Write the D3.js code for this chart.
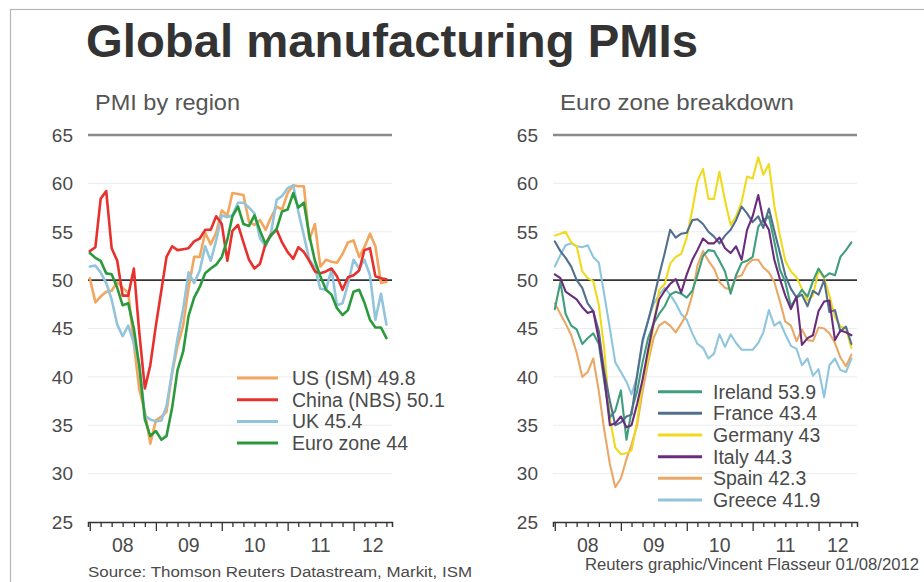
<!DOCTYPE html>
<html>
<head>
<meta charset="utf-8">
<script src="https://cdn.jsdelivr.net/npm/d3@7"></script>
<style>
  html, body { margin: 0; padding: 0; background: #fff; }
  svg { display: block; font-family: "Liberation Sans", Arial, sans-serif; }
</style>
</head>
<body>
<svg id="chart" width="924" height="582"></svg>
<script>
// ---------------- DATA (monthly, Jan 2008 - Jul 2012) ----------------
const startYear = 2008, nMonths = 55;
const yTicks = [25, 30, 35, 40, 45, 50, 55, 60, 65];
const yearLabels = ["08", "09", "10", "11", "12"];

const usISM = [
  50.2, 47.7, 48.3, 48.8, 48.9, 49.8, 49.2, 48.7, 43.4, 38.7, 36.4, 33.1,
  35.5, 35.9, 36.4, 40.4, 43.2, 45.3, 49.2, 52.4, 52.4, 54.9, 53.7, 54.9,
  57.2, 56.7, 59.0, 58.9, 58.8, 56.0, 55.7, 56.2, 55.2, 56.5, 57.6, 57.3,
  59.0, 59.8, 59.7, 59.7, 54.2, 55.8, 51.4, 52.1, 51.9, 51.8, 52.7, 53.9,
  54.1, 52.4, 53.4, 54.8, 53.5, 49.7, 49.8];
const chinaNBS = [
  53.0, 53.4, 58.4, 59.2, 53.3, 52.0, 48.4, 48.4, 51.2, 44.6, 38.8, 41.2,
  45.3, 49.0, 52.4, 53.5, 53.1, 53.2, 53.3, 54.0, 54.3, 55.2, 55.2, 56.6,
  55.8, 52.0, 55.1, 55.7, 53.9, 52.1, 51.2, 51.7, 53.8, 54.7, 55.2, 53.9,
  52.9, 52.2, 53.4, 52.9, 52.0, 50.9, 50.7, 50.9, 51.2, 50.4, 49.0, 50.3,
  50.5, 51.0, 53.1, 53.3, 50.4, 50.2, 50.1];
const ukPMI = [
  51.4, 51.5, 50.8, 49.7, 48.0, 45.4, 44.2, 45.3, 43.5, 41.4, 36.0, 35.6,
  35.4, 35.5, 37.0, 40.5, 44.0, 47.0, 50.8, 49.7, 51.0, 53.5, 52.0, 54.1,
  56.7, 56.5, 56.7, 58.0, 58.0, 57.5, 56.9, 54.3, 53.5, 54.9, 58.3, 58.7,
  59.5, 59.8, 57.1, 54.6, 52.1, 51.3, 49.1, 49.0, 51.1, 47.4, 47.6, 49.6,
  52.1, 51.2, 52.1, 50.5, 45.9, 48.6, 45.4];
const euroZone = [
  52.8, 52.3, 52.0, 50.7, 50.6, 49.2, 47.4, 47.6, 45.0, 41.1, 35.6, 33.9,
  34.4, 33.5, 33.9, 36.8, 40.7, 42.6, 46.3, 48.2, 49.3, 50.7, 51.2, 51.6,
  52.4, 54.2, 56.6, 57.6, 55.8, 55.6, 56.7, 55.1, 53.7, 54.6, 55.3, 57.1,
  57.3, 59.0, 57.5, 58.0, 54.6, 52.0, 50.4, 49.0, 48.5, 47.1, 46.4, 46.9,
  48.8, 49.0, 47.7, 45.9, 45.1, 45.1, 44.0];

const ireland = [
  47.0, 49.8, 46.5, 45.3, 44.9, 43.4, 44.0, 44.5, 43.4, 39.5, 35.8, 36.5,
  38.6, 33.5, 36.5, 38.5, 41.5, 44.0, 45.5, 46.5, 47.3, 48.5, 48.8, 48.6,
  48.2, 48.9, 50.5, 52.5, 53.1, 53.0, 52.0, 50.9, 48.6, 50.5, 51.8, 52.0,
  52.4, 55.5, 56.2, 56.6, 54.0, 51.1, 49.8, 47.3, 48.2, 49.0, 48.3, 49.9,
  51.2, 50.3, 50.7, 50.5, 52.4, 53.1, 53.9];
const france = [
  54.0, 53.0, 52.3, 51.4, 50.0, 49.2, 47.6, 46.8, 44.7, 40.5, 37.5, 35.0,
  35.3, 35.9, 36.1, 40.2, 43.8, 45.8, 48.0, 50.5, 52.8, 55.2, 54.4, 54.8,
  54.9, 56.2, 56.3, 55.8, 55.0, 54.5, 53.8, 54.6, 55.2, 56.2, 57.6, 56.9,
  56.0, 56.6, 55.4, 57.4, 55.1, 52.8, 50.5, 49.1, 48.2, 48.5, 47.3, 48.9,
  48.5, 50.0, 46.7, 46.9, 44.7, 45.2, 43.4];
const germany = [
  54.6, 54.8, 55.0, 53.9, 53.5, 50.9, 50.2, 49.9, 47.4, 42.9, 35.7, 32.7,
  32.0, 32.1, 32.4, 35.4, 39.6, 41.9, 45.3, 49.0, 49.6, 51.7, 52.4, 52.7,
  54.4, 57.3, 60.2, 61.5, 58.4, 58.4, 61.2, 58.2, 55.7, 56.6, 58.1, 60.7,
  60.5, 62.7, 60.9, 62.0, 57.7, 54.6, 52.0, 50.9, 50.3, 49.1, 47.9, 48.4,
  51.0, 50.2, 48.4, 46.2, 45.2, 45.0, 43.0];
const italy = [
  50.6, 50.2, 48.8, 48.4, 48.0, 47.2, 46.6, 46.8, 43.8, 40.0, 35.0, 35.2,
  35.9, 34.8, 35.0, 37.2, 39.7, 42.8, 45.6, 48.0, 48.9, 49.6, 50.1, 48.7,
  50.6, 52.1, 53.1, 54.3, 53.8, 53.8, 54.4, 53.3, 52.8, 53.5, 52.1, 55.2,
  56.6, 58.8, 56.2, 55.2, 52.1, 50.1, 48.4, 47.0, 48.3, 43.3, 44.0, 44.3,
  46.8, 47.8, 47.9, 43.8, 44.8, 44.6, 44.3];
const spain = [
  47.6, 46.5, 45.5, 44.3, 42.5, 40.0, 40.5, 41.9, 38.5, 34.5, 31.0, 28.6,
  29.5, 31.5, 33.0, 35.0, 38.5, 41.5, 44.0, 45.3, 45.7, 45.3, 44.6, 45.5,
  46.5, 48.5, 51.5, 53.0, 52.0, 51.2, 49.8, 49.2, 49.0, 50.3, 50.5, 51.6,
  52.1, 52.1, 51.3, 50.8, 49.8, 47.8, 45.7, 45.3, 43.7, 44.9, 43.8, 43.7,
  45.1, 45.0, 44.5, 43.5, 42.0, 41.1, 42.3];
const greece = [
  51.4, 52.6, 53.6, 53.8, 53.5, 53.4, 53.6, 52.4, 51.8, 48.5, 45.0, 41.5,
  40.5, 39.5, 38.2, 40.0, 43.5, 45.9, 47.5, 48.5, 49.2, 48.5, 47.6, 46.5,
  45.9, 44.5, 43.4, 43.0, 41.9, 42.4, 44.4, 43.1, 44.4, 43.5, 42.8, 42.8,
  42.8, 43.5, 44.6, 46.9, 45.3, 45.7, 44.4, 43.2, 42.9, 41.2, 41.9, 40.1,
  40.8, 37.9, 41.2, 41.9, 40.7, 40.5, 41.9];

const leftSeries = [
  {name: "US (ISM) 49.8", values: usISM, color: "#f2a65e"},
  {name: "China (NBS) 50.1", values: chinaNBS, color: "#e8302c"},
  {name: "UK 45.4", values: ukPMI, color: "#92c4dc"},
  {name: "Euro zone 44", values: euroZone, color: "#2b9a3c"}
];
const leftDrawOrder = [0, 2, 1, 3];
const rightSeries = [
  {name: "Ireland 53.9", values: ireland, color: "#3f9e7c"},
  {name: "France 43.4", values: france, color: "#52708e"},
  {name: "Germany 43", values: germany, color: "#f0da1e"},
  {name: "Italy 44.3", values: italy, color: "#6a2c7c"},
  {name: "Spain 42.3", values: spain, color: "#eaa866"},
  {name: "Greece 41.9", values: greece, color: "#8fc6dd"}
];
const rightDrawOrder = [5, 4, 2, 0, 1, 3];

const months = d3.range(nMonths).map(i => new Date(startYear, i, 1));

// ---------------- DRAWING ----------------
const svg = d3.select("#chart");
const txt = "#4a4a4a";

// frame
svg.append("rect").attr("x", 10.5).attr("y", 9.5).attr("width", 960).attr("height", 620)
  .attr("fill", "none").attr("stroke", "#b5b5b5").attr("stroke-width", 1.2);

svg.append("text").attr("x", 86).attr("y", 57)
  .attr("font-size", 47).attr("font-weight", "bold").attr("fill", "#333")
  .attr("textLength", 612).attr("lengthAdjust", "spacingAndGlyphs")
  .text("Global manufacturing PMIs");

const y = d3.scaleLinear().domain([25, 65]).range([522, 135]);

function panel(offset, subtitle, subLen, series, order, legend) {
  const g = svg.append("g").attr("transform", `translate(${offset},0)`);
  const x = d3.scaleTime()
    .domain([new Date(2007, 11, 22), new Date(2012, 7, 1)])
    .range([88, 392]);

  g.append("text").attr("x", 95).attr("y", 110)
    .attr("font-size", 22).attr("fill", "#555")
    .attr("textLength", subLen).attr("lengthAdjust", "spacingAndGlyphs")
    .text(subtitle);

  // gridlines
  yTicks.filter(v => v !== 25).forEach(v => {
    let stroke = "#ececec", sw = 1;
    if (v === 65) { stroke = "#8a8a8a"; sw = 2.5; }
    if (v === 50) { stroke = "#333"; sw = 1.6; }
    g.append("line").attr("x1", 88).attr("x2", 392)
      .attr("y1", y(v)).attr("y2", y(v))
      .attr("stroke", stroke).attr("stroke-width", sw);
  });

  // y labels
  g.selectAll("text.ylab").data(yTicks).join("text").attr("class", "ylab")
    .attr("x", 73).attr("y", d => y(d)).attr("dy", "0.36em")
    .attr("text-anchor", "end").attr("font-size", 19).attr("fill", txt)
    .text(d => d);

  // x axis
  const tickDates = d3.timeMonth.every(2).range(new Date(2008, 0, 1), new Date(2012, 7, 1));
  const axis = d3.axisBottom(x).tickValues(tickDates).tickFormat("").tickSizeOuter(0).tickSize(5);
  const ax = g.append("g").attr("transform", `translate(0,${y(25)})`).call(axis);
  ax.select(".domain").attr("stroke", "#333").attr("stroke-width", 1.5);
  ax.selectAll(".tick line").attr("stroke", "#333").attr("stroke-width", 1.3)
    .attr("y2", d => d.getMonth() === 0 ? 9 : 5);

  const yearStarts = d3.range(2008, 2013).map(yr => new Date(yr, 0, 1));
  g.selectAll("text.xlab").data(yearStarts).join("text").attr("class", "xlab")
    .attr("x", (d, i) => {
      const end = Math.min(x(new Date(d.getFullYear() + 1, 0, 1)), x.range()[1]);
      return (x(d) + end) / 2;
    })
    .attr("y", 552).attr("text-anchor", "middle").attr("font-size", 19.5).attr("fill", txt)
    .text((d, i) => yearLabels[i]);

  // lines
  const line = d3.line().x((d, i) => x(months[i])).y(d => y(d));
  order.forEach(k => {
    const s = series[k];
    g.append("path").datum(s.values).attr("d", line)
      .attr("fill", "none").attr("stroke", s.color)
      .attr("stroke-width", legend.sw).attr("stroke-linejoin", "round").attr("stroke-linecap", "round");
  });

  // legend
  series.forEach((s, i) => {
    const ly = legend.y0 + i * legend.dy;
    g.append("line").attr("x1", legend.x1).attr("x2", legend.x2)
      .attr("y1", ly).attr("y2", ly).attr("stroke", s.color).attr("stroke-width", 3);
    g.append("text").attr("x", legend.tx).attr("y", ly + 7)
      .attr("font-size", 19.5).attr("fill", txt).text(s.name);
  });
}

panel(0, "PMI by region", 145, leftSeries, leftDrawOrder,
  {x1: 237, x2: 278, tx: 292, y0: 378, dy: 21.7, sw: 2.6});
panel(465, "Euro zone breakdown", 234, rightSeries, rightDrawOrder,
  {x1: 193, x2: 237, tx: 248, y0: 391.7, dy: 21.65, sw: 2.1});

svg.append("text").attr("x", 88).attr("y", 577)
  .attr("font-size", 15.5).attr("fill", txt)
  .attr("textLength", 384).attr("lengthAdjust", "spacingAndGlyphs")
  .text("Source: Thomson Reuters Datastream, Markit, ISM");
svg.append("text").attr("x", 585).attr("y", 570)
  .attr("font-size", 16).attr("fill", txt)
  .attr("textLength", 334).attr("lengthAdjust", "spacingAndGlyphs")
  .text("Reuters graphic/Vincent Flasseur 01/08/2012");
</script>
</body>
</html>
